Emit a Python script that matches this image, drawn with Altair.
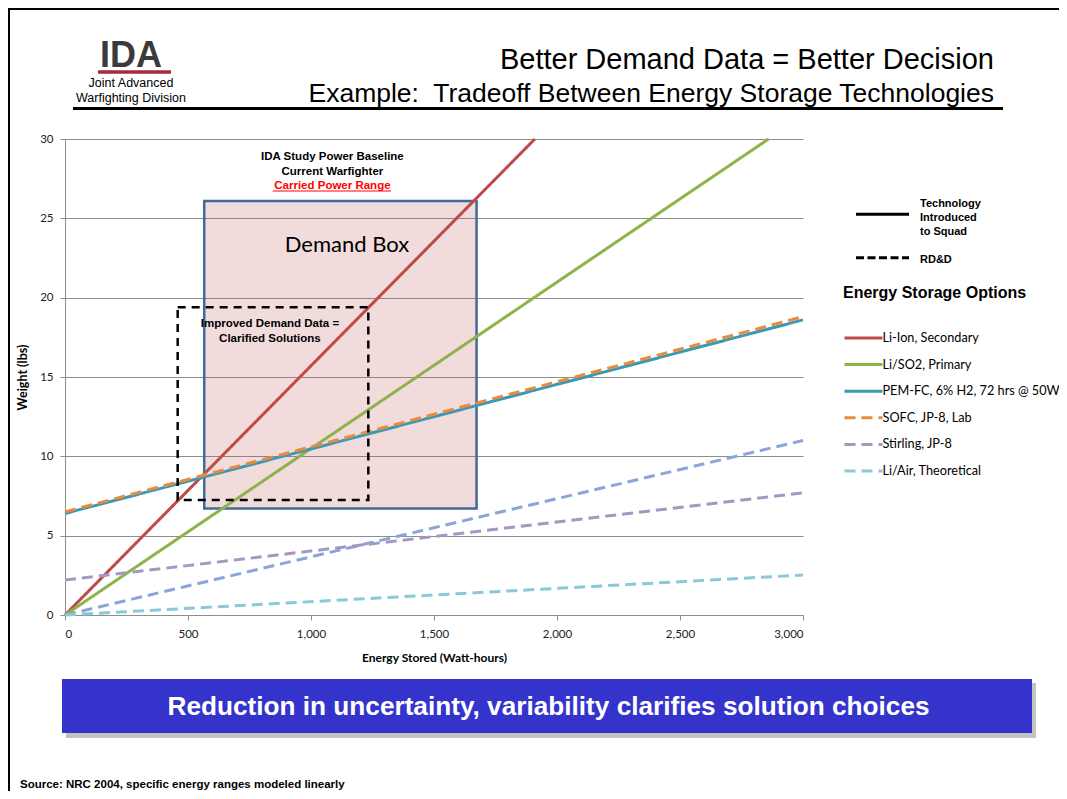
import altair as alt
import pandas as pd

# ---------------- data ----------------
series_names = ["Li-Ion, Secondary", "Li/SO2, Primary", "PEM-FC, 6% H2, 72 hrs @ 50W",
                "SOFC, JP-8, Lab", "Stirling, JP-8", "Li/Air, Theoretical"]
series_colors = ["#be4b48", "#8fb24c", "#3a9ab5", "#ea8a3c", "#a497c4", "#8cc8da"]
series_dashes = [[1, 0], [1, 0], [1, 0], [11, 6], [11, 6], [11, 6]]

line_ids = ["Li-Ion", "Li/SO2", "PEM-FC", "SOFC", "Stirling high", "Stirling low", "Li/Air"]
line_series = ["Li-Ion, Secondary", "Li/SO2, Primary", "PEM-FC, 6% H2, 72 hrs @ 50W",
               "SOFC, JP-8, Lab", "Stirling, JP-8", "Stirling, JP-8", "Li/Air, Theoretical"]
line_start_wh = [0, 0, 0, 0, 0, 0, 0]
line_end_wh = [1910, 2860, 3000, 3000, 3000, 3000, 3000]
line_start_lbs = [0, 0, 6.4, 6.5, 2.2, 0, 0]
line_end_lbs = [30, 30, 18.6, 18.8, 7.7, 11.0, 2.52]
stirling_low_color = "#8aa5d6"

x_ticks = [0, 500, 1000, 1500, 2000, 2500, 3000]
y_ticks = [0, 5, 10, 15, 20, 25, 30]

demand_box_wh = [566, 1673]
demand_box_lbs = [6.72, 26.09]
improved_box_wh = [458, 1233]
improved_box_lbs = [7.25, 19.4]

baseline_lines = ["IDA Study Power Baseline", "Current Warfighter"]
baseline_red = "Carried Power Range"
improved_lines = ["Improved Demand Data =", "Clarified Solutions"]

ARIAL = "Liberation Sans, Arial, sans-serif"
CAL = "Lato, Carlito, Calibri, sans-serif"

# ---------------- tables ----------------
rows = []
for lid, s, x0, x1, y0, y1 in zip(line_ids, line_series, line_start_wh, line_end_wh,
                                  line_start_lbs, line_end_lbs):
    rows.append({"line": lid, "series": s, "wh": x0, "lbs": y0})
    rows.append({"line": lid, "series": s, "wh": x1, "lbs": y1})
lines_df = pd.DataFrame(rows)

boxes_df = pd.DataFrame({
    "box": ["demand", "improved"],
    "wh": [demand_box_wh[0], improved_box_wh[0]],
    "wh2": [demand_box_wh[1], improved_box_wh[1]],
    "lbs": [demand_box_lbs[0], improved_box_lbs[0]],
    "lbs2": [demand_box_lbs[1], improved_box_lbs[1]],
})

one = pd.DataFrame({"k": [0]})
base = alt.Chart(one)

x_axis = alt.Axis(values=x_ticks, labelExpr="format(datum.value, ',')",
                  title="Energy Stored (Watt-hours)", grid=False,
                  domainColor="#8e8e8e", tickColor="#8e8e8e", tickSize=5,
                  labelFont=CAL, labelFontSize=11.5, labelColor="#222222", labelPadding=8,
                  titleFont=CAL, titleFontSize=12, titleFontWeight="bold", titleColor="black",
                  titlePadding=13)
y_axis = alt.Axis(values=y_ticks, labelExpr="format(datum.value, ',')",
                  title="Weight (lbs)", grid=True, gridColor="#8e8e8e",
                  domainColor="#8e8e8e", tickColor="#8e8e8e", tickSize=5,
                  labelFont=CAL, labelFontSize=11.5, labelColor="#222222", labelPadding=7,
                  titleFont=CAL, titleFontSize=12.5, titleFontWeight="bold", titleColor="black",
                  titlePadding=10)
xs = alt.Scale(domain=[0, 3000], nice=False)
ys = alt.Scale(domain=[0, 30], nice=False)

legend = alt.Legend(title="Energy Storage Options", orient="none", legendX=778, legendY=146,
                    padding=0, titleFont=ARIAL, titleFontSize=16, titleFontWeight="bold",
                    titleColor="black", titlePadding=26, titleLimit=400,
                    labelFont=CAL, labelFontSize=12.7, labelColor="black", labelOffset=17.5,
                    labelLimit=400,
                    symbolType="M-1,0H3", symbolSize=361, symbolStrokeWidth=3, rowPadding=8.6)


def txt(text, x, y, size, weight="normal", color="black", align="left",
        baseline="middle", font=ARIAL):
    return base.mark_text(text=text, fontSize=size, fontWeight=weight, color=color,
                          align=align, baseline=baseline, font=font).encode(
        x=alt.value(x), y=alt.value(y))


def hline(x1, x2, y, color, width, dash=None):
    kw = {"strokeDash": dash} if dash else {}
    return base.mark_rule(color=color, strokeWidth=width, **kw).encode(
        x=alt.value(x1), x2=alt.value(x2), y=alt.value(y))


def vline(x, y1, y2, color, width):
    return base.mark_rule(color=color, strokeWidth=width).encode(
        x=alt.value(x), y=alt.value(y1), y2=alt.value(y2))


def box(x1, x2, y1, y2, color, opacity=1.0):
    return base.mark_rect(color=color, opacity=opacity).encode(
        x=alt.value(x1), x2=alt.value(x2), y=alt.value(y1), y2=alt.value(y2))


# ---------------- slide decorations ----------------
deco = [
    vline(-56, -131, 660, "black", 2),
    hline(-57, 1002, -130, "black", 2),
    txt("IDA", 66, -72, 36, "bold", "#3b3b3b", "center", "alphabetic"),
    hline(33, 106, -67, "#a52a3d", 3.5),
    txt("Joint Advanced", 66, -56, 12.5, align="center"),
    txt("Warfighting Division", 66, -41, 12.5, align="center"),
    txt("Better Demand Data = Better Decision", 929, -70, 29, align="right", baseline="alphabetic"),
    txt("Example:\u00a0 Tradeoff Between Energy Storage Technologies", 929, -37, 26.5,
        align="right", baseline="alphabetic"),
    hline(8, 938, -30.5, "black", 3),
    box(1, 971, 544, 599, "#888888", 0.5),
    box(-3, 967, 540, 594, "#3434cc"),
    txt("Reduction in uncertainty, variability clarifies solution choices", 483.5, 568, 26.2,
        "bold", "white", "center"),
    txt("Source: NRC 2004, specific energy ranges modeled linearly", -45, 646, 11.5, "bold"),
]

# ---------------- chart layers ----------------
demand = alt.Chart(boxes_df[boxes_df.box == "demand"]).mark_rect(
    fill="#c0504d", fillOpacity=0.2, stroke="#41699c", strokeWidth=2.5).encode(
    x=alt.X("wh:Q", scale=xs, axis=x_axis), x2="wh2:Q",
    y=alt.Y("lbs:Q", scale=ys, axis=y_axis), y2="lbs2:Q")

stirling_low = alt.Chart(lines_df[lines_df.line == "Stirling low"]).mark_line(
    strokeWidth=3, color=stirling_low_color, strokeDash=[11, 6]).encode(
    x=alt.X("wh:Q", scale=xs, axis=x_axis), y=alt.Y("lbs:Q", scale=ys, axis=y_axis))

main_lines = alt.Chart(lines_df[lines_df.line != "Stirling low"]).mark_line(strokeWidth=3).encode(
    x=alt.X("wh:Q", scale=xs, axis=x_axis),
    y=alt.Y("lbs:Q", scale=ys, axis=y_axis),
    color=alt.Color("series:N", scale=alt.Scale(domain=series_names, range=series_colors),
                    legend=legend),
    strokeDash=alt.StrokeDash("series:N", scale=alt.Scale(domain=series_names, range=series_dashes),
                              legend=legend),
    detail="line:N",
)

improved = alt.Chart(boxes_df[boxes_df.box == "improved"]).mark_rect(
    fill="transparent", stroke="black", strokeWidth=2.5, strokeDash=[8, 6]).encode(
    x=alt.X("wh:Q", scale=xs, axis=x_axis), x2="wh2:Q",
    y=alt.Y("lbs:Q", scale=ys, axis=y_axis), y2="lbs2:Q")

ann = [
    base.mark_text(text=baseline_lines, fontSize=11.5, fontWeight="bold", font=ARIAL,
                   lineHeight=15, baseline="middle", align="center").encode(
        x=alt.datum(1087), y=alt.datum(28.88)),
    base.mark_text(text=baseline_red, fontSize=11.5, fontWeight="bold", font=ARIAL,
                   color="#ff0000", baseline="middle", align="center").encode(
        x=alt.datum(1087), y=alt.datum(27.06)),
    hline(207.7, 326, 52, "#ff0000", 1),
    base.mark_text(text="Demand Box", fontSize=22, font=CAL, baseline="middle",
                   align="center").encode(x=alt.datum(1146), y=alt.datum(23.32)),
    base.mark_text(text=improved_lines, fontSize=11.5, fontWeight="bold", font=ARIAL,
                   lineHeight=15, baseline="middle", align="center").encode(
        x=alt.datum(833), y=alt.datum(18.34)),
]

mini_legend = [
    hline(791, 844, 75.3, "black", 3),
    hline(791, 844, 118.7, "black", 3, [8, 3.5]),
    txt("Technology", 855, 65, 11, "bold"),
    txt("Introduced", 855, 78.7, 11, "bold"),
    txt("to Squad", 855, 92.7, 11, "bold"),
    txt("RD&D", 855, 121, 11, "bold"),
]

chart = alt.layer(*deco, demand, stirling_low, main_lines, improved, *ann, *mini_legend).properties(
    width=738, height=476,
    autosize=alt.AutoSizeParams(type="none"),
    padding={"left": 57, "top": 131, "right": 256, "bottom": 176},
).configure_view(stroke=None)

chart.save("out.html", embed_options={"renderer": "svg", "actions": False})
